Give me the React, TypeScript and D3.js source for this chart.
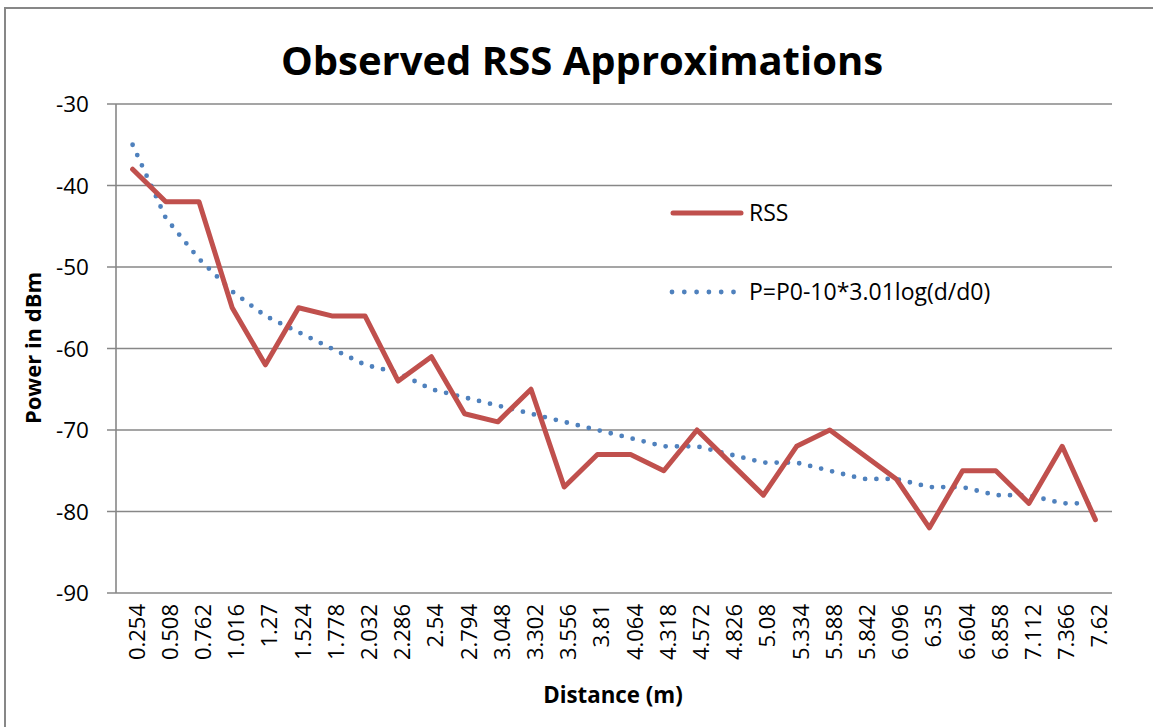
import React from "react";
import * as d3 from "d3";

const categories: string[] = [
  "0.254", "0.508", "0.762", "1.016", "1.27", "1.524", "1.778", "2.032", "2.286", "2.54",
  "2.794", "3.048", "3.302", "3.556", "3.81", "4.064", "4.318", "4.572", "4.826", "5.08",
  "5.334", "5.588", "5.842", "6.096", "6.35", "6.604", "6.858", "7.112", "7.366", "7.62",
];

const rssValues: number[] = [
  -38, -42, -42, -55, -62, -55, -56, -56, -64, -61,
  -68, -69, -65, -77, -73, -73, -75, -70, -74, -78,
  -72, -70, -73, -76, -82, -75, -75, -79, -72, -81,
];

const modelValues: number[] = [
  -35, -44, -49, -53, -56, -58, -60, -62, -63, -65,
  -66, -67, -68, -69, -70, -71, -72, -72, -73, -74,
  -74, -75, -76, -76, -77, -77, -78, -78, -79, -79,
];

const yTicks: number[] = [-90, -80, -70, -60, -50, -40, -30];

const seriesNames: string[] = ["RSS", "P=P0-10*3.01log(d/d0)"];

const title = "Observed RSS Approximations";
const xTitle = "Distance (m)";
const yTitle = "Power in dBm";

const W = 1153;
const H = 727;
const plot = { left: 116, right: 1112, top: 104, bottom: 593 };
const FONT = "'Open Sans', 'DejaVu Sans', sans-serif";
const GRID = "#878787";
const RED = "#C0504D";
const BLUE = "#4F81BD";

export default function App() {
  const x = d3.scaleBand<string>().domain(categories).range([plot.left, plot.right]);
  const y = d3.scaleLinear().domain([-90, -30]).range([plot.bottom, plot.top]);
  const cx = (c: string) => (x(c) as number) + x.bandwidth() / 2;

  const line = d3
    .line<number>()
    .x((_, i) => cx(categories[i]))
    .y((v) => y(v));

  const rssPath = line(rssValues) || "";
  const modelPath = line(modelValues) || "";

  return (
    <svg
      width={W}
      height={H}
      style={{ position: "absolute", left: 0, top: 0, background: "#fff" }}
      fontFamily={FONT}
    >
      <rect x={0} y={0} width={W} height={H} fill="#fff" />
      <rect x={5} y={8} width={W + 50} height={H + 50} fill="none" stroke={GRID} strokeWidth={2} />

      <text x={582} y={75} textAnchor="middle" fontSize={40} fontWeight="bold" fill="#000">
        {title}
      </text>

      {yTicks.map((t) => (
        <g key={t}>
          <line x1={plot.left - 9} x2={plot.right} y1={y(t)} y2={y(t)} stroke={GRID} strokeWidth={1.6} />
          <text x={89} y={y(t)} dy="0.36em" textAnchor="end" fontSize={22.5} fill="#000">
            {t}
          </text>
        </g>
      ))}
      <line x1={plot.left} x2={plot.left} y1={plot.top} y2={plot.bottom} stroke={GRID} strokeWidth={1.6} />

      {categories.map((c) => (
        <text
          key={c}
          transform={`translate(${cx(c) + 4},${plot.bottom + 11}) rotate(-90)`}
          dy="0.36em"
          textAnchor="end"
          fontSize={22}
          fill="#000"
        >
          {c}
        </text>
      ))}

      <path d={modelPath} fill="none" stroke={BLUE} strokeWidth={4.8} strokeDasharray="0 11.3" strokeLinecap="round" />
      <path d={rssPath} fill="none" stroke={RED} strokeWidth={5} strokeLinejoin="round" strokeLinecap="round" />

      <line x1={673} x2={741} y1={213} y2={213} stroke={RED} strokeWidth={5} strokeLinecap="round" />
      <text x={749} y={213} dy="0.36em" fontSize={23} fill="#000">{seriesNames[0]}</text>
      <line x1={672} x2={736} y1={292} y2={292} stroke={BLUE} strokeWidth={4.8} strokeDasharray="0 12.3" strokeLinecap="round" />
      <text x={749} y={292} dy="0.36em" fontSize={23} fill="#000">{seriesNames[1]}</text>

      <text x={613} y={703} textAnchor="middle" fontSize={22.3} fontWeight="bold" fill="#000">
        {xTitle}
      </text>
      <text transform={`translate(41,348) rotate(-90)`} textAnchor="middle" fontSize={22} fontWeight="bold" fill="#000">
        {yTitle}
      </text>
    </svg>
  );
}
